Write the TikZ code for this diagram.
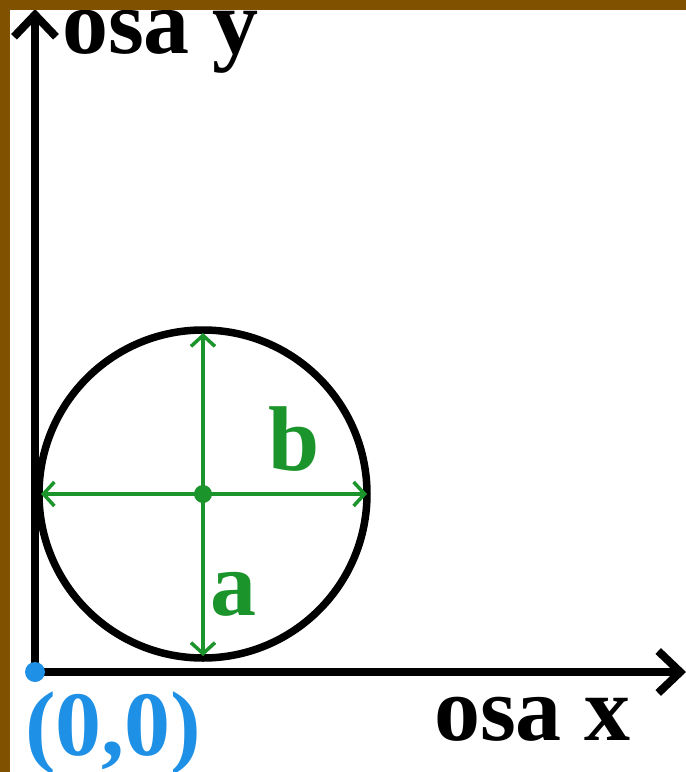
\documentclass[tikz,border=0pt]{standalone}
\usepackage{fontspec}
\setmainfont{Liberation Serif}
\usetikzlibrary{arrows.meta}
\definecolor{brownbd}{RGB}{128,82,0}
\definecolor{grn}{RGB}{28,148,44}
\definecolor{blu}{RGB}{30,144,230}
\tikzset{
  axis/.style={line width=8pt, -{Straight Barb[length=22pt,width=42pt,line width=8pt]}},
  dim/.style={grn, line width=3.5pt, {Straight Barb[length=11pt,width=24pt,line width=3.5pt]}-{Straight Barb[length=11pt,width=24pt,line width=3.5pt]}},
  lbl/.style={inner sep=0pt, anchor=base west, font=\fontsize{92}{100}\selectfont\bfseries},
}
\begin{document}
\begin{tikzpicture}[x=1pt,y=-1pt]
\fill[white] (0,0) rectangle (686,772);
\useasboundingbox (0,0) rectangle (686,772);
\coordinate (O) at (35,672);
\coordinate (ytop) at (35,11);
\coordinate (xend) at (684,672);
\coordinate (C) at (203,494);
\coordinate (L) at (41,494);
\coordinate (R) at (367,494);
\coordinate (T) at (203,333);
\coordinate (B) at (203,656);
\draw[line width=7.5pt] (C) circle[radius=164pt];
\draw[axis, shorten >=-2pt] (O) -- (ytop);
\draw[axis, shorten >=-2pt] (O) -- (xend);
\draw[dim] (L) -- (R);
\draw[dim] (T) -- (B);
\fill[grn] (C) circle[radius=9pt];
\fill[blu] (O) circle[radius=10pt];
\node[lbl, grn] (b) at (268,470) {b};
\node[lbl, grn] (a) at (210,615) {a};
\node[lbl] (ylab) at (62,53) {osa y};
\node[lbl] (xlab) at (434,740) {osa x};
\node[lbl, blu] (orig) at (25,755) {(0,0)};
\fill[brownbd] (0,0) rectangle (686,10);
\fill[brownbd] (0,0) rectangle (10,772);
\end{tikzpicture}
\end{document}
